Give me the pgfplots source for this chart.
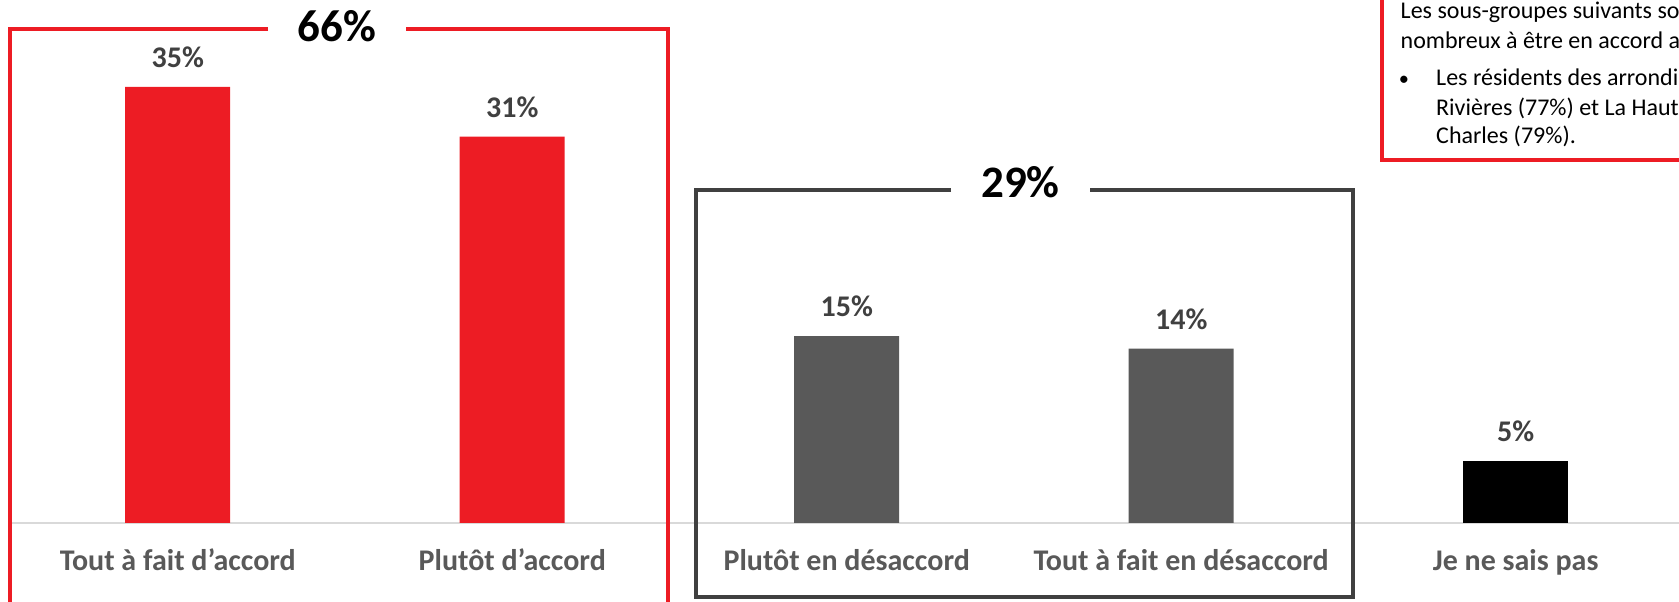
\documentclass[border=0pt]{standalone}
\usepackage{pgfplots}
\pgfplotsset{compat=1.18}
\usepackage{fontspec}
\setmainfont{Carlito}
\definecolor{cred}{HTML}{ED1C24}
\definecolor{cgrey}{HTML}{595959}
\definecolor{cdark}{HTML}{404040}
\definecolor{cbase}{HTML}{D9D9D9}
\begin{document}
\begin{tikzpicture}[x=1pt,y=1pt]
\path[use as bounding box] (0,0) rectangle (1679,602);
\clip (0,0) rectangle (1679,602);
\begin{axis}[
  at={(10.5pt,79pt)}, anchor=south west,
  scale only axis, width=1672.5pt, height=498.4pt,
  xmin=-0.5, xmax=4.5, ymin=0, ymax=40,
  axis x line*=bottom, axis y line=none,
  x axis line style={draw=cbase, line width=1.5pt, -},
  ytick=\empty,
  xtick={0,1,2,3,4},
  xticklabels={Tout à fait d’accord, Plutôt d’accord, Plutôt en désaccord, Tout à fait en désaccord, Je ne sais pas},
  major tick length=0pt,
  xticklabel style={font=\fontsize{30}{36}\selectfont\bfseries, text=cgrey, anchor=base, yshift=-47.5pt},
  ybar, bar width=105pt,
  nodes near coords={\pgfmathprintnumber{\pgfplotspointmeta}\%},
  /pgf/number format/assume math mode=true,
  every node near coord/.append style={font=\fontsize{30}{36}\selectfont\bfseries, text=cdark, inner sep=0pt, yshift=19pt},
  clip=false,
]
\addplot[fill=cred, draw=none, bar shift=0pt] coordinates {(0,35) (1,31)};
\addplot[fill=cgrey, draw=none, bar shift=0pt] coordinates {(2,15) (3,14)};
\addplot[fill=black, draw=none, bar shift=0pt] coordinates {(4,5)};
\end{axis}
\draw[cred, line width=3.2pt, line join=miter] (268,573) -- (10,573) -- (10,-10);
\draw[cred, line width=3.2pt, line join=miter] (406,573) -- (668,573) -- (668,-10);
\node[anchor=base, font=\fontsize{45}{54}\selectfont\bfseries, inner sep=0pt] at (337,560.3) {66\%};
\draw[cdark, line width=3.2pt, line join=miter] (951,412) -- (696,412) -- (696,5) -- (1353,5) -- (1353,412) -- (1090,412);
\node[anchor=base, font=\fontsize{45}{54}\selectfont\bfseries, inner sep=0pt] at (1020.5,404) {29\%};
\draw[cred, line width=3.2pt, line join=miter] (1382,442) rectangle (1760,660);
\begin{scope}[every node/.style={font=\fontsize{24}{29}\selectfont, inner sep=0pt}]
\node[anchor=base west] at (1400.5,583.7) {Les sous-groupes suivants sont plus};
\node[anchor=base west] at (1400.5,553.7) {nombreux à être en accord avec l’énoncé :};
\node[anchor=base, scale=0.85] at (1404,516.2) {•};
\node[anchor=base west] at (1436,516.2) {Les résidents des arrondissements Les};
\node[anchor=base west] at (1436,486.2) {Rivières (77\%) et La Haute-Saint-};
\node[anchor=base west] at (1436,458.4) {Charles (79\%).};
\end{scope}
\end{tikzpicture}
\end{document}
